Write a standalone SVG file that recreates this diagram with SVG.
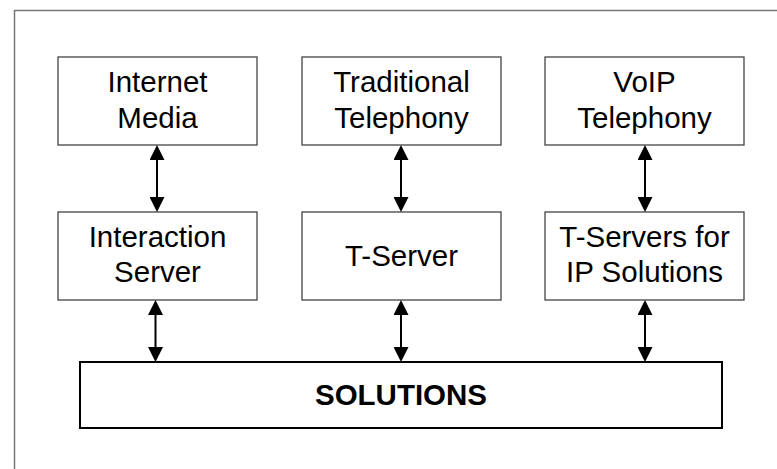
<svg xmlns="http://www.w3.org/2000/svg" width="777" height="469" viewBox="0 0 777 469">
<style>
.box{fill:#fff;stroke:#444;stroke-width:1.3}
.sol{fill:#fff;stroke:#000;stroke-width:2}
.t{font-family:"Liberation Sans",Arial,sans-serif;font-size:29.5px;fill:#000;text-anchor:middle}
.b{font-weight:bold}
.c{stroke:#000;stroke-width:2;fill:none;marker-start:url(#ah);marker-end:url(#ah)}
</style>
<defs>
<marker id="ah" markerUnits="userSpaceOnUse" markerWidth="15" markerHeight="15" refX="10" refY="7.5" orient="auto-start-reverse">
<path d="M0,0 L15,7.5 L0,15 z" fill="#000"/>
</marker>
</defs>
<rect width="777" height="469" fill="#fff"/>
<path d="M14.5,469 V10.5 H777" fill="none" stroke="#777" stroke-width="1.5"/>
<g id="internet-media">
<rect class="box" x="58" y="57" width="199" height="88"/>
<text class="t" x="157.5" y="92">Internet</text>
<text class="t" x="157.5" y="128">Media</text>
</g>
<g id="traditional-telephony">
<rect class="box" x="302" y="57" width="199" height="88"/>
<text class="t" x="401.5" y="92">Traditional</text>
<text class="t" x="401.5" y="128">Telephony</text>
</g>
<g id="voip-telephony">
<rect class="box" x="545" y="57" width="199" height="88"/>
<text class="t" x="644.5" y="92">VoIP</text>
<text class="t" x="644.5" y="128">Telephony</text>
</g>
<g id="interaction-server">
<rect class="box" x="58" y="212" width="199" height="88"/>
<text class="t" x="157.5" y="247">Interaction</text>
<text class="t" x="157.5" y="282">Server</text>
</g>
<g id="t-server">
<rect class="box" x="302" y="212" width="199" height="88"/>
<text class="t" x="401.5" y="265.5">T-Server</text>
</g>
<g id="t-servers-ip">
<rect class="box" x="545" y="212" width="199" height="88"/>
<text class="t" x="644.5" y="247">T-Servers for</text>
<text class="t" x="644.5" y="282">IP Solutions</text>
</g>
<g id="solutions">
<rect class="sol" x="80" y="362" width="642" height="66"/>
<text class="t b" x="401" y="404.5">SOLUTIONS</text>
</g>
<g id="connectors">
<line class="c" x1="157" y1="150" x2="157" y2="207"/>
<line class="c" x1="401" y1="150" x2="401" y2="207"/>
<line class="c" x1="645" y1="150" x2="645" y2="207"/>
<line class="c" x1="155.5" y1="305" x2="155.5" y2="357"/>
<line class="c" x1="401" y1="305" x2="401" y2="357"/>
<line class="c" x1="645" y1="305" x2="645" y2="357"/>
</g>
</svg>
